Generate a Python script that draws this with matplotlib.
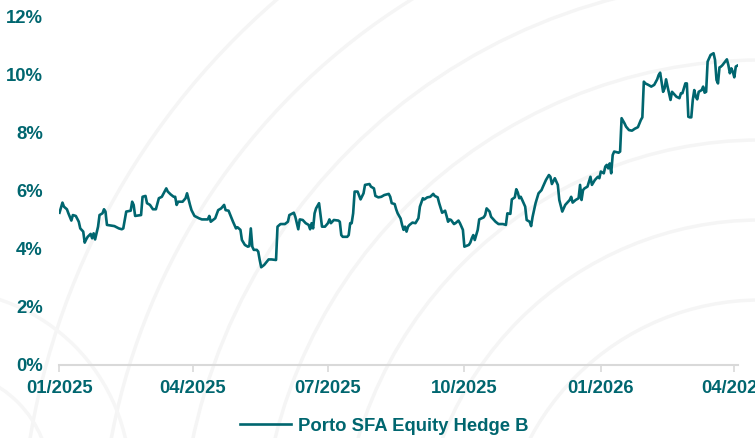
import numpy as np
import matplotlib
matplotlib.use("Agg")
import matplotlib.pyplot as plt
import matplotlib.dates as mdates
from matplotlib.patches import Circle

# days since 01/01/2025 and return level in %
days = [0, 2, 3, 5, 6, 8, 9, 11, 13, 14, 16, 17, 18, 19, 21, 22, 23, 24, 26, 27,
        29, 30, 31, 32, 37, 40, 42, 43, 45, 48, 49, 50, 51, 55, 56, 58, 59, 61, 63, 65,
        67, 69, 72, 73, 75, 77, 78, 79, 80, 83, 85, 86, 88, 89, 91, 94, 96, 98, 100, 101,
        102, 104, 105, 107, 109, 111, 112, 114, 117, 119, 120, 122, 123, 125, 127, 128, 129, 130, 131, 133,
        134, 135, 136, 138, 141, 143, 146, 147, 149, 152, 154, 155, 158, 159, 161, 162, 164, 166, 168, 169,
        170, 171, 172, 173, 175, 177, 179, 181, 182, 183, 185, 188, 189, 190, 191, 194, 195, 196, 197, 198,
        199, 201, 203, 205, 206, 209, 210, 212, 213, 215, 217, 219, 222, 223, 224, 226, 227, 228, 230, 231,
        232, 233, 234, 235, 236, 238, 240, 242, 243, 245, 246, 248, 250, 252, 253, 255, 256, 258, 260, 261,
        262, 263, 264, 266, 267, 269, 270, 272, 273, 276, 277, 278, 279, 280, 282, 283, 286, 287, 288, 290,
        291, 294, 296, 299, 301, 302, 304, 305, 307, 308, 309, 310, 311, 312, 314, 315, 317, 318, 319, 321,
        323, 325, 326, 328, 330, 331, 332, 334, 336, 337, 339, 341, 343, 344, 345, 346, 348, 350, 351, 352,
        353, 354, 356, 357, 358, 359, 361, 363, 364, 365, 367, 368, 369, 370, 371, 372, 373, 374, 377, 378,
        379, 381, 382, 384, 386, 388, 390, 392, 393, 394, 395, 397, 399, 401, 403, 404, 405, 407, 408, 409,
        410, 411, 412, 413, 415, 416, 418, 419, 420, 422, 423, 424, 425, 426, 427, 428, 429, 430, 431, 433,
        434, 435, 436, 437, 439, 441, 442, 443, 444, 445, 446, 447, 450, 451, 452, 453, 454, 455, 456, 457]
values = [5.25, 5.60, 5.46, 5.37, 5.23, 4.98, 5.17, 5.14, 4.94, 4.71, 4.60, 4.22, 4.33, 4.42, 4.52, 4.37, 4.54, 4.33, 4.77, 5.17,
          5.23, 5.37, 5.29, 4.83, 4.79, 4.71, 4.68, 4.71, 5.29, 5.32, 5.63, 5.52, 5.14, 5.17, 5.80, 5.83, 5.58, 5.52, 5.37, 5.37,
          5.75, 5.80, 6.09, 5.98, 5.88, 5.80, 5.80, 5.52, 5.63, 5.63, 5.75, 5.92, 5.52, 5.34, 5.14, 5.06, 5.02, 5.02, 5.02, 5.14,
          4.94, 5.02, 5.06, 5.34, 5.40, 5.52, 5.34, 5.32, 4.94, 4.71, 4.75, 4.66, 4.31, 4.14, 4.08, 4.10, 4.71, 4.08, 3.97, 3.97,
          3.91, 3.62, 3.37, 3.45, 3.64, 3.64, 3.62, 4.77, 4.86, 4.86, 4.94, 5.17, 5.25, 5.11, 4.68, 5.02, 5.00, 4.89, 4.83, 4.68,
          4.89, 4.71, 5.23, 5.40, 5.58, 4.77, 4.77, 4.89, 5.02, 4.89, 5.00, 4.98, 4.94, 4.48, 4.42, 4.42, 4.48, 4.89, 4.89, 5.23,
          5.98, 5.98, 5.71, 5.92, 6.21, 6.24, 6.15, 6.09, 5.83, 5.78, 5.80, 5.86, 5.90, 5.80, 5.58, 5.55, 5.37, 5.23, 5.05, 4.83,
          4.66, 4.77, 4.60, 4.77, 4.83, 4.91, 4.89, 5.06, 5.46, 5.75, 5.71, 5.78, 5.80, 5.90, 5.83, 5.78, 5.58, 5.25, 5.32, 5.14,
          4.94, 5.02, 5.00, 4.86, 4.89, 4.98, 4.89, 4.66, 4.08, 4.14, 4.22, 4.37, 4.48, 4.31, 4.66, 5.02, 5.09, 5.17, 5.40, 5.29,
          5.11, 4.94, 4.86, 4.86, 4.83, 5.23, 5.21, 5.71, 5.78, 6.06, 5.95, 5.75, 5.80, 5.69, 5.46, 5.00, 4.94, 4.79, 5.11, 5.58,
          5.92, 6.03, 6.15, 6.38, 6.55, 6.49, 6.24, 6.44, 6.21, 5.69, 5.29, 5.52, 5.63, 5.69, 5.80, 5.60, 5.69, 5.75, 6.21, 5.69,
          6.03, 6.09, 6.15, 6.32, 6.49, 6.21, 6.38, 6.49, 6.44, 6.67, 6.61, 6.84, 6.90, 6.78, 6.95, 6.61, 7.24, 7.36, 7.32, 7.36,
          8.51, 8.33, 8.22, 8.10, 8.08, 8.15, 8.20, 8.45, 8.54, 9.77, 9.71, 9.66, 9.60, 9.66, 9.85, 10.00, 10.08, 9.42, 9.54, 9.85,
          9.60, 9.37, 9.14, 9.42, 9.31, 9.25, 9.20, 9.37, 9.37, 9.71, 9.71, 8.56, 8.54, 8.54, 9.14, 9.48, 9.25, 9.16, 9.42, 9.48,
          9.60, 9.39, 9.42, 10.46, 10.69, 10.75, 10.52, 9.83, 9.71, 10.26, 10.29, 10.34, 10.54, 10.34, 10.06, 10.23, 10.11, 9.92, 10.29, 10.32]
series_name = "Porto SFA Equity Hedge B"
tick_dates = ["2025-01-01", "2025-04-01", "2025-07-01", "2025-10-01", "2026-01-01", "2026-04-01"]
y_ticks = [0, 2, 4, 6, 8, 10, 12]

teal = "#00666f"
start = np.datetime64("2025-01-01")
dates = start + np.array(days).astype("timedelta64[D]")

plt.rcParams["font.family"] = ["Liberation Sans", "DejaVu Sans"]
fig = plt.figure(figsize=(7.55, 4.38), dpi=100)
fig.patch.set_facecolor("white")

# very faint watermark arcs in the background
bg = fig.add_axes([0, 0, 1, 1], zorder=-1)
bg.set_xlim(0, 755)
bg.set_ylim(438, 0)
bg.axis("off")
for r in [260, 340, 420, 500, 580, 660, 740]:
    bg.add_patch(Circle((760, 560), r, fill=False, color="#f5f5f5", lw=2.5))
for r in [110, 190]:
    bg.add_patch(Circle((-60, 480), r, fill=False, color="#f6f6f6", lw=2.5))

ax = fig.add_axes([0.0788, 0.1667, 0.8987, 0.7945])
ax.set_facecolor("none")
ax.plot(dates, values, color=teal, lw=1.9, label=series_name)

ax.set_ylim(0, 12)
ax.set_yticks(y_ticks)
ax.set_yticklabels([f"{v}%" for v in y_ticks])
ax.set_xlim(start, start + np.timedelta64(457, "D") + np.timedelta64(12, "h"))
ax.set_xticks([np.datetime64(d) for d in tick_dates])
ax.xaxis.set_major_formatter(mdates.DateFormatter("%m/%Y"))

for s in ["top", "right", "left"]:
    ax.spines[s].set_visible(False)
ax.spines["bottom"].set_color("#d9d9d9")
ax.spines["bottom"].set_linewidth(1.5)
ax.tick_params(axis="y", length=0, pad=12, labelsize=13.3, labelcolor=teal)
ax.tick_params(axis="x", length=5, width=1.2, color="#d9d9d9", pad=6, labelsize=13.3, labelcolor=teal)
for lab in ax.get_xticklabels() + ax.get_yticklabels():
    lab.set_fontweight("bold")

leg = fig.legend(loc="center", bbox_to_anchor=(0.509, 0.027), frameon=False,
                 handlelength=2.75, handletextpad=0.35, fontsize=13.3)
for t in leg.get_texts():
    t.set_color(teal)
    t.set_fontweight("bold")

fig.savefig("out.png", dpi=100)
